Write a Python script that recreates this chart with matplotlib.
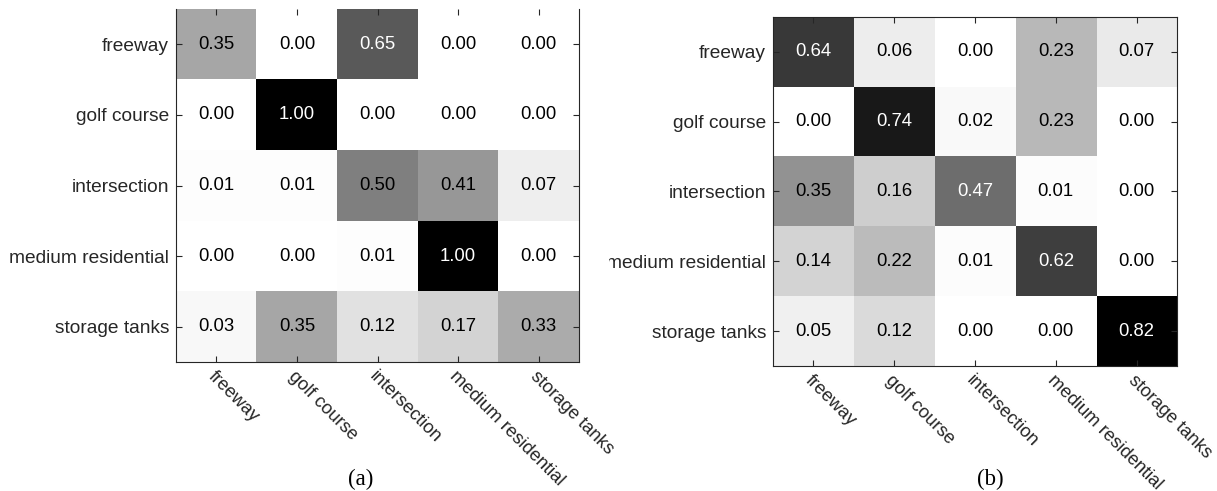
import matplotlib
matplotlib.use("Agg")
import matplotlib.pyplot as plt
import numpy as np
from matplotlib.transforms import Bbox, TransformedBbox

plt.rcParams["font.family"] = ["Liberation Sans", "DejaVu Sans"]

classes = ["freeway", "golf course", "intersection", "medium residential", "storage tanks"]

cm_a = [
    [0.35, 0.00, 0.65, 0.00, 0.00],
    [0.00, 1.00, 0.00, 0.00, 0.00],
    [0.01, 0.01, 0.50, 0.41, 0.07],
    [0.00, 0.00, 0.01, 1.00, 0.00],
    [0.03, 0.35, 0.12, 0.17, 0.33],
]

cm_b = [
    [0.64, 0.06, 0.00, 0.23, 0.07],
    [0.00, 0.74, 0.02, 0.23, 0.00],
    [0.35, 0.16, 0.47, 0.01, 0.00],
    [0.14, 0.22, 0.01, 0.62, 0.00],
    [0.05, 0.12, 0.00, 0.00, 0.82],
]

panel_labels = ["(a)", "(b)"]

W, H = 1217, 491
fig = plt.figure(figsize=(W / 100, H / 100), dpi=100)


def px_axes(x0, y0, x1, y1):
    return fig.add_axes([x0 / W, 1 - y1 / H, (x1 - x0) / W, (y1 - y0) / H])


def draw_matrix(ax, cm):
    m = np.array(cm)
    vmax = m.max()
    ax.imshow(m, cmap="gray_r", vmin=0, vmax=vmax, aspect="auto",
              interpolation="nearest")
    n = m.shape[0]
    for i in range(n):
        for j in range(n):
            v = m[i, j]
            ax.text(j, i, f"{v:.2f}", ha="center", va="center", fontsize=13.3,
                    color="white" if v > vmax / 2 else "black")
    ax.set_xticks(range(n))
    ax.set_yticks(range(n))
    ax.set_xticklabels(classes, rotation=-45, ha="left", va="top",
                       rotation_mode="anchor")
    ax.set_yticklabels(classes)
    ax.tick_params(axis="both", direction="in", length=4, width=0.8,
                   top=True, right=True, colors="#262626")
    ax.tick_params(axis="x", pad=4, labelsize=13.2)
    ax.tick_params(axis="y", pad=5, labelsize=13.8)
    for s in ax.spines.values():
        s.set_color("#262626")
        s.set_linewidth(0.8)


ax1 = px_axes(176, 9, 579, 362)
draw_matrix(ax1, cm_a)
ax1.spines["top"].set_visible(False)

ax2 = px_axes(773, 17, 1177, 366)
draw_matrix(ax2, cm_b)

# the right panel's row labels are cut at the middle of the figure
clip = TransformedBbox(Bbox([[609 / W, 0], [1, 1]]), fig.transFigure)
for lab in ax2.get_yticklabels():
    lab.set_clip_box(clip)
    lab.set_clip_on(True)

fig.text(361 / W, 1 - 479 / H, panel_labels[0], ha="center", va="center",
         fontsize=16.5, family=["Liberation Serif", "DejaVu Serif"])
fig.text(990 / W, 1 - 479 / H, panel_labels[1], ha="center", va="center",
         fontsize=16.5, family=["Liberation Serif", "DejaVu Serif"])

fig.savefig("out.png", dpi=100)
